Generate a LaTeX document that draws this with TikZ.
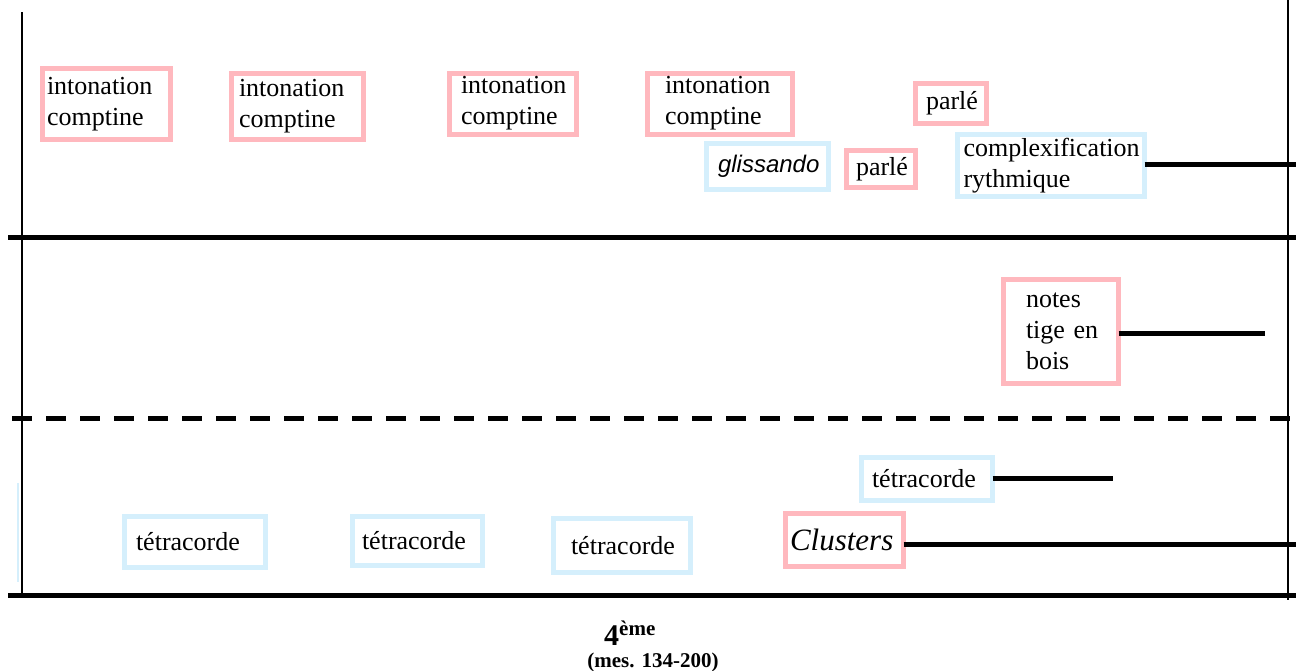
\documentclass[tikz,border=0pt]{standalone}
\usepackage{fontspec}
\setmainfont{Liberation Serif}
\newfontfamily\glissfont{Liberation Sans}
\definecolor{boxpink}{HTML}{FFB8BE}
\definecolor{boxblue}{HTML}{D5EFFC}
\begin{document}
\begin{tikzpicture}[x=1pt,y=-1pt,
  every node/.style={inner sep=0pt,outer sep=0pt,font=\fontsize{26}{31}\selectfont},
  pinkbox/.style={draw=boxpink,line width=5pt,fill=white,align=left},
  bluebox/.style={draw=boxblue,line width=5pt,fill=white,align=left},
  thickrule/.style={line width=5pt,black},
  thinrule/.style={line width=2pt,black},
  conn/.style={line width=5pt,black}]
\useasboundingbox[fill=white] (0,0) rectangle (1296,670);
% frame lines
\coordinate (lt) at (22,12);
\coordinate (lb) at (22,597);
\coordinate (rt) at (1288,0);
\coordinate (rb) at (1288,600);
\draw[thinrule] (lt) -- (lb);
\draw[thinrule] (rt) -- (rb);
\draw[line width=1.5pt,boxblue] (18,483) -- (18,582);
\coordinate (h1a) at (8,237);
\coordinate (h1b) at (1296,237);
\coordinate (h2a) at (12,418);
\coordinate (h2b) at (1296,418);
\coordinate (h3a) at (8,595);
\coordinate (h3b) at (1296,595);
\draw[thickrule] (h1a) -- (h1b);
\draw[thickrule,dash pattern=on 20pt off 14pt] (h2a) -- (h2b);
\draw[thickrule] (h3a) -- (h3b);
% top band
\node[pinkbox,text width=119pt,inner xsep=4.5pt,minimum height=71pt] (ic1) at (106.5,104) {\mbox{intonation}\\\mbox{comptine}};
\node[pinkbox,text width=117pt,inner xsep=7.5pt,minimum height=66pt] (ic2) at (297.5,106) {\mbox{intonation}\\\mbox{comptine}};
\node[pinkbox,text width=104pt,inner xsep=11.5pt,minimum height=61pt] (ic3) at (513,103.5) {\mbox{intonation}\\\mbox{comptine}};
\node[pinkbox,text width=110pt,inner xsep=17.5pt,minimum height=61pt] (ic4) at (720,103.5) {\mbox{intonation}\\\mbox{comptine}};
\node[pinkbox,text width=50pt,inner xsep=10.5pt,minimum height=40pt] (p1) at (951,103.5) {\mbox{parlé}};
\node[bluebox,text width=99pt,inner xsep=11.5pt,minimum height=46pt,font=\fontsize{24}{30}\selectfont\glissfont\itshape] (gl) at (767.5,166) {\mbox{glissando}};
\node[pinkbox,text width=50pt,inner xsep=9.5pt,minimum height=37pt] (p2) at (881,169) {\mbox{parlé}};
\node[bluebox,text width=175pt,inner xsep=6pt,minimum height=62pt] (cx) at (1051,165.5) {\mbox{complexification}\\\mbox{rythmique}};
\coordinate (cxend) at (1296,164);
\draw[conn] (cx.east |- cxend) -- (cxend);
% middle band
\node[pinkbox,text width=70pt,inner xsep=22.5pt,minimum height=104pt] (nt) at (1061,331.5) {\mbox{notes}\\\mbox{tige en}\\\mbox{bois}};
\coordinate (ntend) at (1265,333);
\draw[conn] (nt.east |- ntend) -- (ntend);
% bottom band
\node[bluebox,text width=110pt,inner xsep=10.5pt,minimum height=43pt] (t4) at (927,479) {\mbox{tétracorde}};
\coordinate (t4end) at (1113,478);
\draw[conn] (t4.east |- t4end) -- (t4end);
\node[bluebox,text width=118pt,inner xsep=11.5pt,minimum height=51pt] (t1) at (195,542) {\mbox{tétracorde}};
\node[bluebox,text width=111pt,inner xsep=9.5pt,minimum height=49pt] (t2) at (417.5,541) {\mbox{tétracorde}};
\node[bluebox,text width=102pt,inner xsep=17.5pt,minimum height=54pt] (t3) at (622,545.5) {\mbox{tétracorde}};
\node[pinkbox,text width=109pt,inner xsep=4.5pt,minimum height=53pt,font=\fontsize{31}{36}\selectfont\itshape] (cl) at (844.5,540) {\mbox{Clusters}};
\coordinate (clend) at (1296,544);
\draw[conn] (cl.east |- clend) -- (clend);
% caption
\node[anchor=base,font=\fontsize{30}{34}\selectfont\bfseries] (cap1) at (630,645) {4\textsuperscript{ème}};
\node[anchor=base,font=\fontsize{21}{25}\selectfont\bfseries] (cap2) at (653,667) {(mes. 134-200)};
\end{tikzpicture}
\end{document}
